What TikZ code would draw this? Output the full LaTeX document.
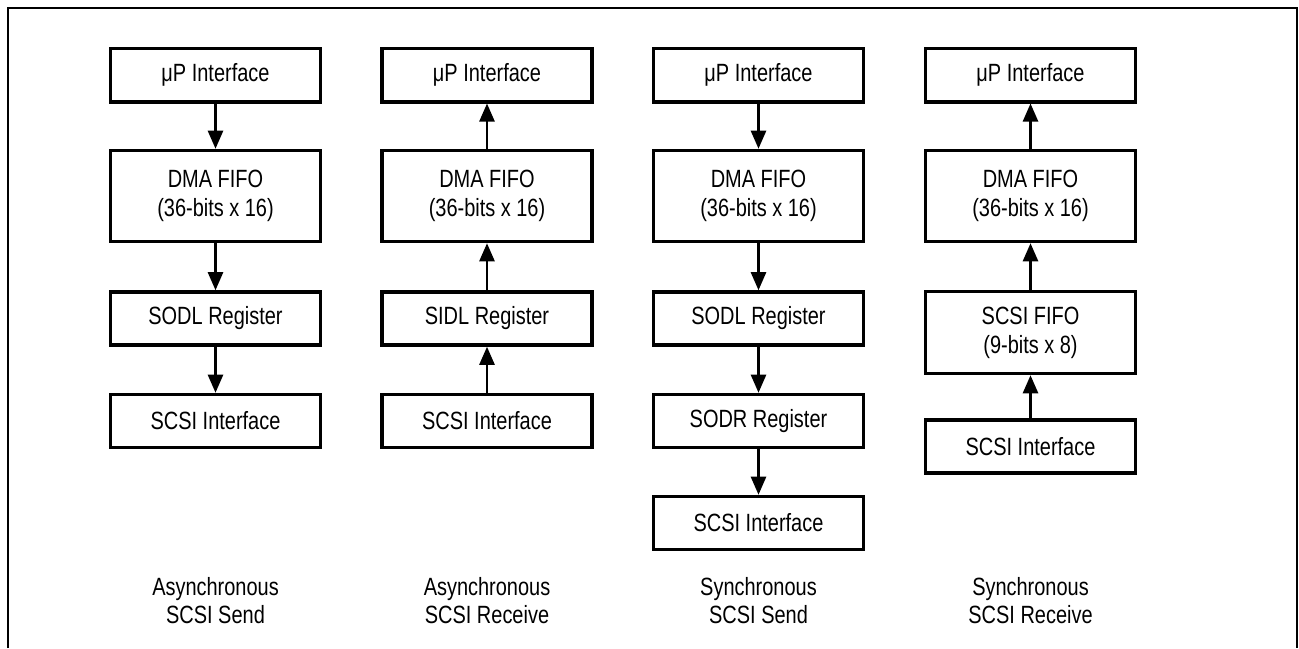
\documentclass[tikz,border=0pt]{standalone}
\usepackage{fontspec}
\setmainfont{Liberation Sans}[FakeStretch=0.8]
\usetikzlibrary{arrows.meta}

\begin{document}
\begin{tikzpicture}[
        blk/.style={draw, line width=2pt, minimum width=4.2cm, minimum height=1.06cm,
            inner sep=0pt, align=center, font=\fontsize{14.2}{16.5}\selectfont},
        tallblk/.style={blk, minimum height=1.82cm},
        fifoblk/.style={blk, minimum height=1.64cm},
        flow/.style={line width=1.4pt, -{Triangle[length=0.36cm, width=0.3cm]}},
        modelabel/.style={align=center, font=\fontsize{14.2}{15.6}\selectfont}
    ]
        \useasboundingbox (0, 0) rectangle (25.98, 12.96);
        \draw [line width=1.4pt] (0.16, 0) -- (0.16, 12.8) -- (25.94, 12.8) -- (25.94, 0);

        % asynchronous send
        \node [blk] (up1) at (4.31, 11.455) {μP Interface};
        \node [tallblk] (dma1) at (4.31, 9.04) {DMA FIFO\\(36-bits x 16)};
        \node [blk] (sodl1) at (4.31, 6.59) {SODL Register};
        \node [blk] (scsi1) at (4.31, 4.54) {SCSI Interface};
        \node [modelabel] (lbl1) at (4.31, 0.95) {Asynchronous\\SCSI Send};
        \draw [flow] (up1) -- (dma1);
        \draw [flow] (dma1) -- (sodl1);
        \draw [flow] (sodl1) -- (scsi1);

        % asynchronous receive
        \node [blk] (up2) at (9.74, 11.455) {μP Interface};
        \node [tallblk] (dma2) at (9.74, 9.04) {DMA FIFO\\(36-bits x 16)};
        \node [blk] (sidl2) at (9.74, 6.59) {SIDL Register};
        \node [blk] (scsi2) at (9.74, 4.54) {SCSI Interface};
        \node [modelabel] (lbl2) at (9.74, 0.95) {Asynchronous\\SCSI Receive};
        \draw [flow] (dma2) -- (up2);
        \draw [flow] (sidl2) -- (dma2);
        \draw [flow] (scsi2) -- (sidl2);

        % synchronous send
        \node [blk] (up3) at (15.17, 11.455) {μP Interface};
        \node [tallblk] (dma3) at (15.17, 9.04) {DMA FIFO\\(36-bits x 16)};
        \node [blk] (sodl3) at (15.17, 6.59) {SODL Register};
        \node [blk] (sodr3) at (15.17, 4.54) {SODR Register};
        \node [blk] (scsi3) at (15.17, 2.5) {SCSI Interface};
        \node [modelabel] (lbl3) at (15.17, 0.95) {Synchronous\\SCSI Send};
        \draw [flow] (up3) -- (dma3);
        \draw [flow] (dma3) -- (sodl3);
        \draw [flow] (sodl3) -- (sodr3);
        \draw [flow] (sodr3) -- (scsi3);

        % synchronous receive
        \node [blk] (up4) at (20.61, 11.455) {μP Interface};
        \node [tallblk] (dma4) at (20.61, 9.04) {DMA FIFO\\(36-bits x 16)};
        \node [fifoblk] (fifo4) at (20.61, 6.31) {SCSI FIFO\\(9-bits x 8)};
        \node [blk] (scsi4) at (20.61, 4.03) {SCSI Interface};
        \node [modelabel] (lbl4) at (20.61, 0.95) {Synchronous\\SCSI Receive};
        \draw [flow] (dma4) -- (up4);
        \draw [flow] (fifo4) -- (dma4);
        \draw [flow] (scsi4) -- (fifo4);
    \end{tikzpicture}
\end{document}
